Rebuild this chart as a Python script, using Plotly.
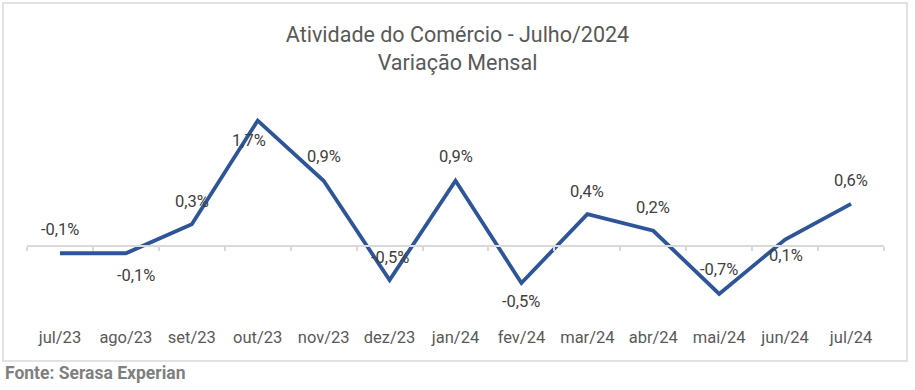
import plotly.graph_objects as go

categories = ["jul/23", "ago/23", "set/23", "out/23", "nov/23", "dez/23", "jan/24",
              "fev/24", "mar/24", "abr/24", "mai/24", "jun/24", "jul/24"]
values = [-0.10, -0.10, 0.30, 1.73, 0.90, -0.47, 0.90, -0.51, 0.44, 0.21, -0.66, 0.09, 0.58]

# label offsets (style only): (xshift, yshift) in px
label_shift = [(0, 24), (10, -22), (0, 23), (-9, -20), (0, 24), (0, 23), (0, 24),
               (0, -19), (0, 23), (0, 23), (0, 24), (1, -16), (0, 23)]

FONT = "Roboto"
W, H = 915, 390
L, R, T, B = 27, 31, 95, 65
plot_w = W - L - R
plot_h = H - T - B

ymin, ymax = -1.0897, 2.0828
zero_pos = (0 - ymin) / (ymax - ymin)

fig = go.Figure()
fig.add_trace(go.Scatter(
    x=categories, y=values, mode="lines",
    line=dict(color="#2E5597", width=3.8),
    hoverinfo="x+y", showlegend=False,
))
# invisible trace carrying the zero-line axis with boundary ticks
fig.add_trace(go.Scatter(
    x=categories, y=values, mode="lines", xaxis="x2",
    line=dict(width=0, color="rgba(0,0,0,0)"),
    hoverinfo="skip", showlegend=False,
))

annotations = []
for c, v, (dx, dy) in zip(categories, values, label_shift):
    annotations.append(dict(
        x=c, y=v, xref="x", yref="y",
        text=f"{v:.1f}%".replace(".", ","),
        showarrow=False, xanchor="center", yanchor="middle",
        xshift=dx, yshift=dy,
        font=dict(family=FONT, size=16.5, color="#404040"),
    ))

def px_x(p):
    return (p - L) / plot_w

def px_y(p):
    return (H - B - p) / plot_h

annotations.append(dict(
    x=px_x(3), y=px_y(373), xref="paper", yref="paper",
    text="<b>Fonte: Serasa Experian</b>", showarrow=False,
    xanchor="left", yanchor="middle",
    font=dict(family=FONT, size=17.5, color="#7F7F7F"),
))

fig.add_shape(type="rect", xref="paper", yref="paper",
              x0=px_x(3), x1=px_x(907), y0=px_y(361), y1=px_y(3),
              line=dict(color="#D9D9D9", width=1.5), fillcolor="rgba(0,0,0,0)",
              layer="below")

fig.update_layout(
    width=W, height=H,
    margin=dict(l=L, r=R, t=T, b=B),
    paper_bgcolor="white", plot_bgcolor="white",
    title=dict(
        text="Atividade do Comércio - Julho/2024<br>Variação Mensal",
        x=0.5, xanchor="center", xref="container",
        y=1 - 42 / H, yanchor="top", yref="container",
        font=dict(family=FONT, size=21.5, color="#595959"),
    ),
    xaxis=dict(
        type="category", categoryorder="array", categoryarray=categories,
        range=[-0.5, len(categories) - 0.5],
        showline=False, showgrid=False, zeroline=False, ticks="",
        tickfont=dict(family=FONT, size=16.5, color="#595959"),
    ),
    xaxis2=dict(
        type="category", categoryorder="array", categoryarray=categories,
        range=[-0.5, len(categories) - 0.5],
        overlaying="x", anchor="free", position=zero_pos,
        showline=True, linecolor="#D9D9D9", linewidth=1.5,
        ticks="outside", tickson="boundaries", ticklen=4, tickcolor="#D9D9D9",
        tickwidth=1.5, showticklabels=False, showgrid=False, zeroline=False,
    ),
    yaxis=dict(range=[ymin, ymax], visible=False, showgrid=False, zeroline=False),
    annotations=annotations,
    font=dict(family=FONT),
)

fig.write_html("out.html", post_script="document.body.style.margin='0';",
               config={"displayModeBar": False})
